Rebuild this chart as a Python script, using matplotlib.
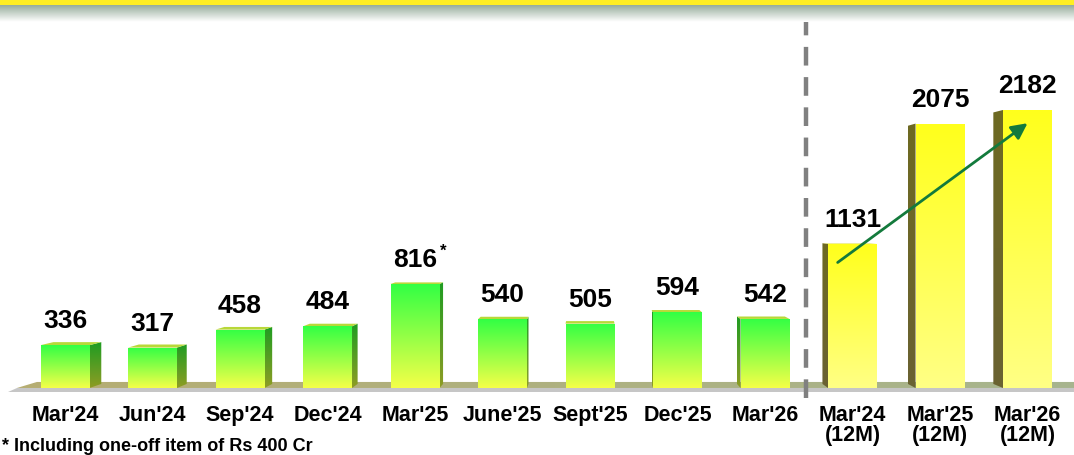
import numpy as np
import matplotlib
matplotlib.use("Agg")
import matplotlib.pyplot as plt
from matplotlib.patches import Polygon, Rectangle

plt.rcParams['font.family'] = ['Liberation Sans', 'DejaVu Sans']
plt.rcParams['font.weight'] = 'bold'

# quarterly values, then the 12-month totals
categories = ["Mar'24", "Jun'24", "Sep'24", "Dec'24", "Mar'25", "June'25", "Sept'25",
              "Dec'25", "Mar'26", "Mar'24\n(12M)", "Mar'25\n(12M)", "Mar'26\n(12M)"]
values = [336, 317, 458, 484, 816, 540, 505, 594, 542, 1131, 2075, 2182]
is_annual = [False] * 9 + [True] * 3
footnote = "* Including one-off item of Rs 400 Cr"

# perspective: everything recedes toward a point above the floor
VP_X, VP_Y = 6.0, 1350.0
BAR_DEPTH = 0.0235
FLOOR_DEPTH = 0.035
HALF_W = 0.28


def recede(pt, depth):
    x, y = pt
    s = 1.0 - depth
    return (VP_X + s * (x - VP_X), VP_Y + s * (y - VP_Y))


def rgb(h):
    return np.array(matplotlib.colors.to_rgb(h))


def gradient_poly(ax, verts, c_top, c_bot, zorder, horizontal=False):
    poly = Polygon(verts, closed=True, facecolor='none', edgecolor='none', zorder=zorder)
    ax.add_patch(poly)
    xs = [v[0] for v in verts]
    ys = [v[1] for v in verts]
    g = np.linspace(0, 1, 64)
    if horizontal:
        img = (rgb(c_top)[None, None, :] * (1 - g)[None, :, None]
               + rgb(c_bot)[None, None, :] * g[None, :, None])
    else:
        img = (rgb(c_top)[None, None, :] * (1 - g)[:, None, None]
               + rgb(c_bot)[None, None, :] * g[:, None, None])
    im = ax.imshow(img, extent=(min(xs), max(xs), min(ys), max(ys)), origin='upper',
                   aspect='auto', interpolation='bilinear', zorder=zorder)
    im.set_clip_path(poly)
    return im


fig = plt.figure(figsize=(10.74, 4.55), dpi=100)
ax = fig.add_axes([0, 0, 1, 1])
ax.set_xlim(-0.743, 11.531)
ax.set_ylim(-526, 3045)
ax.axis('off')

# floor slab
f_left, f_right = -0.55, 11.75
front = [(f_left, 0), (f_right, 0)]
back = [recede(p, FLOOR_DEPTH) for p in front[::-1]]
ax.add_patch(Polygon([(f_left - 0.1, -32), (f_right, -32), (f_right, 0), (f_left, 0)],
                     closed=True, facecolor='#c6c6c6', edgecolor='none', zorder=1))
gradient_poly(ax, front + back, '#b6ad72', '#a7b58f', zorder=2, horizontal=True)

# bars
for i, (v, annual) in enumerate(zip(values, is_annual)):
    x0, x1 = i - HALF_W, i + HALF_W
    if annual:
        face = ('#ffff1c', '#ffff84')
        side = ('#6e6a22', '#6a6232')
        top = '#e8e860'
    else:
        face = ('#33ff44', '#f4ff48')
        side = ('#1f9c22', '#8e9c24')
        top = '#b8d838'

    # visible side face
    if i < VP_X:
        edge = [(x1, 0), (x1, v)]
    else:
        edge = [(x0, 0), (x0, v)]
    if i != VP_X:
        back_edge = [recede(p, BAR_DEPTH) for p in edge[::-1]]
        gradient_poly(ax, edge + back_edge, side[0], side[1], zorder=3)

    # top face, seen only when the bar is below eye level
    if v < VP_Y:
        top_front = [(x0, v), (x1, v)]
        top_back = [recede(p, BAR_DEPTH) for p in top_front[::-1]]
        ax.add_patch(Polygon(top_front + top_back, closed=True, facecolor=top,
                             edgecolor='none', zorder=4))

    gradient_poly(ax, [(x0, 0), (x1, 0), (x1, v), (x0, v)], face[0], face[1], zorder=5)

    ax.annotate(str(v), xy=(i, v), xytext=(0, 17), textcoords='offset pixels',
                ha='center', va='baseline', fontsize=19, fontweight='bold', zorder=8)
    ax.text(i, -132, categories[i], ha='center', va='top', fontsize=15.5,
            fontweight='bold', linespacing=0.98, zorder=8)

ax.annotate('*', xy=(4, values[4]), xytext=(28, 33), textcoords='offset pixels',
            ha='center', va='center', fontsize=12, fontweight='bold', zorder=8)

# split between quarterly and annual figures
ax.plot([8.47, 8.47], [-75, 3010], color='#808080', lw=3.2, dashes=(4.2, 2.6), zorder=6)

# growth arrow across the annual bars
ax.annotate('', xy=(11.0, 2078), xytext=(8.83, 985),
            arrowprops=dict(arrowstyle='-|>', color='#137a3c', lw=2.0,
                            mutation_scale=24, shrinkA=0, shrinkB=0), zorder=9)

# header band
band = fig.add_axes([0, 1 - 22 / 455, 1, 17 / 455])
band.axis('off')
g = np.linspace(0, 1, 32)
band_img = rgb('#97ad9c')[None, None, :] * (1 - g)[:, None, None] + np.ones(3)[None, None, :] * g[:, None, None]
band.imshow(band_img, extent=(0, 1, 0, 1), aspect='auto', origin='upper', interpolation='bilinear')
fig.patches.append(Rectangle((0, 1 - 4.5 / 455), 1, 4.5 / 455, transform=fig.transFigure,
                             facecolor='#ffee22', edgecolor='none'))

fig.text(0.002, 1 - 438 / 455, footnote, ha='left', va='top', fontsize=13, fontweight='bold')

fig.savefig('out.png', dpi=100)
